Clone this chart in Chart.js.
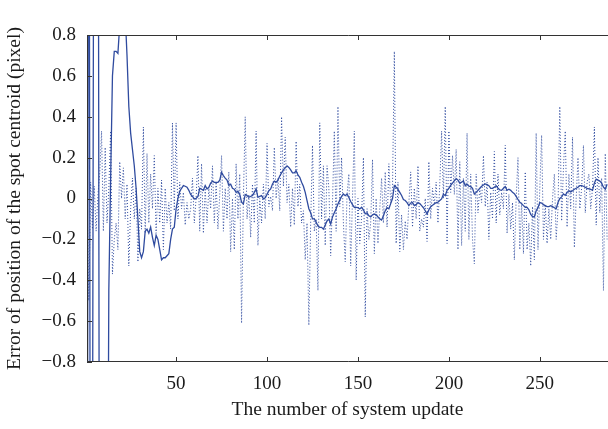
<!DOCTYPE html>
<html>
<head>
<meta charset="utf-8">
<script src="https://cdn.jsdelivr.net/npm/chart.js@4.4.0/dist/chart.umd.min.js"></script>
<style>
  html, body { margin: 0; padding: 0; background: #fff; }
  #wrap { width: 608px; height: 429px; }
</style>
</head>
<body>
<div id="wrap"><canvas id="chart" width="608" height="429"></canvas></div>
<script>
// tick labels
const xTicks = [50, 100, 150, 200, 250];
const yTicks = [-0.8, -0.6, -0.4, -0.2, 0, 0.2, 0.4, 0.6, 0.8];

// solid line (filtered error), one value per system update, starting at 1
const filtered = [
  -3, 3, -3, -1.5, 3, 3, 3, -3, -3, -3,
  -3, -2.5, -0.45, 0.1, 0.6, 0.72, 0.72, 0.71, 0.85, 0.95,
  0.98, 0.9, 0.7, 0.45, 0.32, 0.24, 0.16, 0.05, -0.1, -0.26,
  -0.29, -0.26, -0.16, -0.15, -0.17, -0.14, -0.19, -0.23, -0.18, -0.2,
  -0.25, -0.3, -0.29, -0.29, -0.28, -0.27, -0.2, -0.15, -0.14, -0.05,
  0.0, 0.035, 0.05, 0.063, 0.06, 0.055, 0.04, 0.02, 0.01, -0.002,
  0.0, 0.01, 0.05, 0.045, 0.04, 0.063, 0.047, 0.055, 0.075, 0.085,
  0.079, 0.079, 0.079, 0.09, 0.128, 0.112, 0.1, 0.09, 0.065, 0.07,
  0.05, 0.045, 0.03, 0.035, 0.02, -0.018, -0.027, 0.02, 0.015, 0.006,
  0.01, 0.015, 0.03, 0.047, 0.006, 0.01, 0.014, -0.002, 0.004, 0.02,
  0.038, 0.047, 0.071, 0.085, 0.08, 0.09, 0.11, 0.125, 0.14, 0.15,
  0.16, 0.152, 0.14, 0.125, 0.125, 0.136, 0.115, 0.104, 0.08, 0.06,
  0.03, -0.01, -0.05, -0.07, -0.1, -0.1, -0.115, -0.135, -0.141, -0.141,
  -0.15, -0.13, -0.11, -0.1, -0.125, -0.09, -0.07, -0.05, -0.027, -0.008,
  0.01, 0.022, 0.014, 0.022, 0.005, -0.015, -0.03, -0.043, -0.043, -0.045,
  -0.051, -0.043, -0.055, -0.075, -0.07, -0.085, -0.09, -0.08, -0.076, -0.08,
  -0.09, -0.1, -0.105, -0.085, -0.06, -0.045, -0.05, -0.025, 0.0, 0.063,
  0.055, 0.045, 0.03, 0.015, -0.005, -0.01, -0.02, -0.035, -0.022, -0.02,
  -0.035, -0.03, -0.02, -0.025, -0.035, -0.045, -0.06, -0.076, -0.055, -0.04,
  -0.033, -0.027, -0.02, -0.018, -0.01, -0.002, 0.022, 0.014, 0.04, 0.05,
  0.065, 0.075, 0.087, 0.097, 0.09, 0.075, 0.08, 0.087, 0.063, 0.07,
  0.06, 0.058, 0.05, 0.022, 0.03, 0.04, 0.05, 0.06, 0.066, 0.071,
  0.068, 0.063, 0.05, 0.05, 0.055, 0.063, 0.05, 0.042, 0.04, 0.05,
  0.058, 0.04, 0.045, 0.04, 0.03, 0.024, 0.01, -0.005, -0.018, -0.025,
  -0.035, -0.043, -0.043, -0.055, -0.078, -0.088, -0.09, -0.06, -0.045, -0.02,
  -0.022, -0.03, -0.035, -0.04, -0.04, -0.035, -0.04, -0.045, -0.05, -0.02,
  0.0, 0.008, 0.022, 0.016, 0.03, 0.038, 0.032, 0.038, 0.045, 0.05,
  0.055, 0.063, 0.063, 0.06, 0.055, 0.05, 0.047, 0.045, 0.04, 0.075,
  0.095, 0.09, 0.085, 0.075, 0.055, 0.045, 0.07
];

// dotted line (raw error)
const measured = [
  0.05, -0.5, 0.08, -0.15, 0.06, -0.16, 0.02, 0.12, 0.33, -0.16,
  0.25, -0.12, 0.05, 0.33, -0.37, -0.2, -0.12, -0.25, 0.18, 0.0,
  0.15, -0.1, 0.07, -0.33, -0.05, 0.1, -0.1, 0.05, -0.31, -0.05,
  -0.15, 0.35, -0.17, 0.22, -0.12, 0.12, -0.05, 0.21, -0.17, 0.05,
  -0.12, 0.09, -0.25, 0.05, -0.12, -0.02, -0.15, 0.37, -0.06, 0.37,
  -0.1, 0.08, -0.05, 0.03, -0.13, -0.02, -0.1, -0.05, 0.1, -0.12,
  0.0, 0.21, -0.16, 0.17, -0.17, 0.05, -0.12, 0.05, -0.05, 0.16,
  -0.12, 0.08, -0.15, 0.02, 0.21, -0.16, 0.05, -0.1, 0.13, -0.26,
  0.0, -0.25, 0.17, -0.1, 0.12, -0.61, 0.0, 0.4, -0.1, 0.02,
  -0.19, 0.07, -0.12, 0.33, -0.23, 0.0, -0.12, 0.07, -0.1, 0.27,
  -0.04, 0.01, -0.06, 0.25, 0.0, 0.1, -0.06, 0.4, 0.06, 0.3,
  -0.02, 0.07, -0.14, 0.05, -0.13, 0.28, -0.04, 0.07, -0.12, -0.06,
  -0.3, -0.12, -0.62, -0.12, 0.26, -0.16, -0.1, -0.45, 0.37, -0.1,
  0.16, -0.23, 0.16, 0.05, -0.28, -0.02, 0.33, -0.16, 0.45, -0.04,
  0.2, -0.12, -0.31, 0.02, 0.12, -0.33, 0.0, 0.33, -0.4, 0.0,
  -0.22, -0.09, 0.2, -0.58, -0.05, -0.2, -0.12, 0.19, -0.27, 0.0,
  -0.22, -0.05, 0.1, -0.12, 0.13, -0.14, 0.17, -0.02, 0.05, 0.72,
  -0.22, 0.08, -0.26, -0.08, -0.25, -0.11, -0.2, -0.02, 0.13, -0.14,
  0.05, -0.1, 0.16, -0.16, -0.1, -0.14, 0.0, -0.21, 0.18, -0.1,
  0.05, -0.03, 0.08, -0.12, 0.07, 0.33, 0.0, 0.45, -0.22, 0.33,
  0.03, 0.21, 0.02, 0.24, -0.25, 0.18, -0.23, 0.1, -0.16, 0.32,
  -0.2, 0.12, -0.2, -0.32, 0.12, -0.07, 0.05, -0.02, 0.21, -0.04,
  0.08, -0.2, 0.03, -0.1, 0.23, -0.12, 0.12, -0.08, 0.03, -0.05,
  0.26, -0.17, 0.02, -0.15, -0.02, -0.3, 0.0, 0.2, -0.25, -0.02,
  -0.27, 0.13, -0.25, -0.12, -0.33, -0.04, -0.3, 0.32, -0.25, 0.05,
  0.31, -0.2, -0.03, -0.22, -0.05, -0.2, 0.0, 0.12, -0.2, -0.05,
  0.45, -0.11, 0.15, 0.33, -0.14, 0.12, -0.05, 0.3, -0.24, 0.0,
  0.2, -0.05, 0.05, 0.26, -0.07, 0.08, 0.12, -0.05, 0.05, 0.35,
  -0.13, 0.2, -0.07, 0.1, -0.45, 0.22, -0.2
];

const lineColor = "#2f4b9f";
const axisColor = "#333";
const textColor = "#1a1a1a";
const fontFamily = "'Liberation Serif', 'DejaVu Serif', serif";

function toPoints(arr) {
  return arr.map((v, i) => ({ x: i + 1, y: v }));
}

function fmtY(v) {
  if (Math.abs(v) < 1e-9) return "0";
  const s = Math.abs(v).toFixed(1);
  return v < 0 ? "\u2212" + s : s;
}

// box on top/left/bottom with inward ticks, matlab style
const frame = {
  id: "frame",
  afterDatasetsDraw(chart) {
    const { ctx, chartArea: a, scales } = chart;
    ctx.save();
    ctx.strokeStyle = axisColor;
    ctx.lineWidth = 1;
    ctx.beginPath();
    ctx.moveTo(a.right + 1, a.top + 0.5);
    ctx.lineTo(a.left + 0.5, a.top + 0.5);
    ctx.lineTo(a.left + 0.5, a.bottom - 0.5);
    ctx.lineTo(a.right + 1, a.bottom - 0.5);
    xTicks.forEach((v) => {
      const px = Math.round(scales.x.getPixelForValue(v)) + 0.5;
      ctx.moveTo(px, a.bottom);
      ctx.lineTo(px, a.bottom - 5);
      ctx.moveTo(px, a.top);
      ctx.lineTo(px, a.top + 5);
    });
    yTicks.forEach((v) => {
      const py = Math.round(scales.y.getPixelForValue(v)) + 0.5;
      ctx.moveTo(a.left, py);
      ctx.lineTo(a.left + 5, py);
    });
    ctx.stroke();
    ctx.restore();
  },
};

new Chart(document.getElementById("chart"), {
  type: "line",
  data: {
    datasets: [
      {
        label: "filtered",
        data: toPoints(filtered),
        borderColor: lineColor,
        borderWidth: 1.3,
        pointRadius: 0,
        tension: 0,
        clip: 0,
      },
      {
        label: "measured",
        data: toPoints(measured),
        borderColor: lineColor,
        borderWidth: 1,
        borderDash: [1, 2],
        pointRadius: 0,
        tension: 0,
        clip: 0,
      },
    ],
  },
  options: {
    responsive: false,
    animation: false,
    devicePixelRatio: 1,
    layout: { padding: { top: 35, right: 0, left: 0, bottom: 0 } },
    plugins: { legend: { display: false }, tooltip: { enabled: false } },
    scales: {
      x: {
        type: "linear",
        min: 1,
        max: 287.5,
        grid: { display: false, drawTicks: false },
        border: { display: false },
        afterBuildTicks: (s) => { s.ticks = xTicks.map((v) => ({ value: v })); },
        afterFit: (s) => { s.height = 67; },
        ticks: {
          autoSkip: false,
          maxRotation: 0,
          padding: 11,
          color: textColor,
          font: { family: fontFamily, size: 19 },
        },
        title: {
          display: true,
          text: "The number of system update",
          color: textColor,
          font: { family: fontFamily, size: 19.5 },
          padding: { top: 0, bottom: 7 },
        },
      },
      y: {
        min: -0.8,
        max: 0.8,
        grid: { display: false, drawTicks: false },
        border: { display: false },
        afterBuildTicks: (s) => { s.ticks = yTicks.map((v) => ({ value: v })); },
        afterFit: (s) => { s.width = 87; },
        ticks: {
          padding: 11,
          color: textColor,
          font: { family: fontFamily, size: 19 },
          callback: (v) => fmtY(v),
        },
        title: {
          display: true,
          text: "Error of position of the spot centroid (pixel)",
          color: textColor,
          font: { family: fontFamily, size: 19.5 },
          padding: { top: 3, bottom: 0 },
        },
      },
    },
  },
  plugins: [frame],
});
</script>
</body>
</html>
